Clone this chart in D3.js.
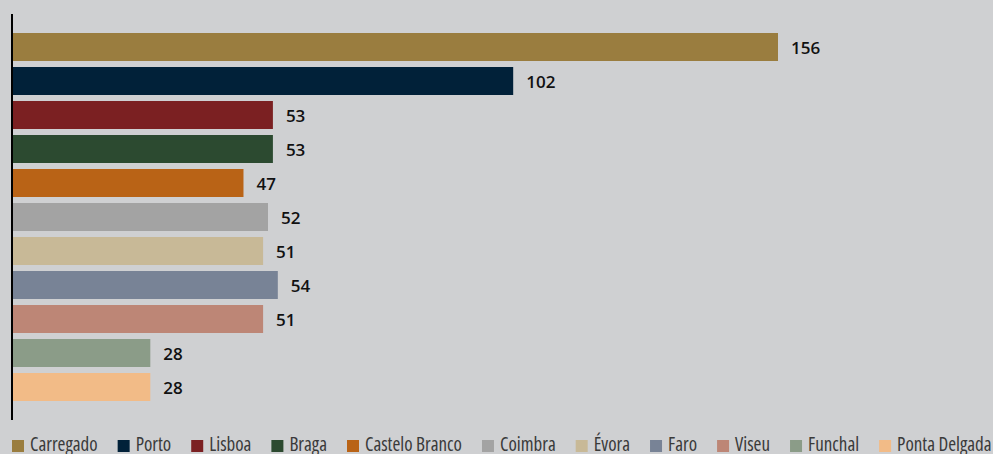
<!DOCTYPE html>
<html>
<head>
<meta charset="utf-8">
<script src="https://cdn.jsdelivr.net/npm/d3@7/dist/d3.min.js"></script>
<style>
  html, body { margin: 0; padding: 0; background: #cfd0d2; }
  svg { display: block; }
  .value { font-family: "Open Sans", "Noto Sans", sans-serif; font-weight: 600; font-size: 17px; fill: #111; }
  .legend text { font-family: "Open Sans", "Liberation Sans Narrow", sans-serif; font-stretch: condensed; font-weight: 400; font-size: 19px; fill: #3a3a3a; }
</style>
</head>
<body>
<svg id="chart" width="993" height="454"></svg>
<script>
// Cities and their counts, top to bottom
const categories = ["Carregado", "Porto", "Lisboa", "Braga", "Castelo Branco", "Coimbra", "Évora", "Faro", "Viseu", "Funchal", "Ponta Delgada"];
const values = [156, 102, 53, 53, 47, 52, 51, 54, 51, 28, 28];
const colors = ["#9a7d3f", "#012139", "#7b2022", "#2c4a30", "#b96316", "#a3a3a3", "#c8b997", "#788396", "#bd8676", "#8b9c88", "#f2bb87"];

const W = 993, H = 454;
const svg = d3.select("#chart");

svg.append("rect").attr("width", W).attr("height", H).attr("fill", "#cfd0d2");

const x = d3.scaleLinear().domain([0, 156]).range([13, 778]);
const y = d3.scaleBand().domain(categories).range([30, 404]).paddingInner(6 / 34).paddingOuter(3 / 34);
const color = d3.scaleOrdinal().domain(categories).range(colors);

const data = categories.map((c, i) => ({ city: c, value: values[i] }));

// Bars
svg.append("g").selectAll("rect")
  .data(data)
  .join("rect")
  .attr("x", x(0))
  .attr("y", d => y(d.city))
  .attr("width", d => x(d.value) - x(0))
  .attr("height", y.bandwidth())
  .attr("fill", d => color(d.city));

// Value labels just past each bar end
svg.append("g").selectAll("text")
  .data(data)
  .join("text")
  .attr("class", "value")
  .attr("x", d => x(d.value) + 13)
  .attr("y", d => y(d.city) + y.bandwidth() / 2)
  .attr("text-anchor", "start")
  .attr("dominant-baseline", "central")
  .text(d => d.value);

// Category axis line
svg.append("line")
  .attr("x1", 12).attr("x2", 12)
  .attr("y1", 14).attr("y2", 420)
  .attr("stroke", "#000").attr("stroke-width", 2);

// Legend laid out left to right
const legend = svg.append("g").attr("class", "legend");
let lx = 12;
categories.forEach(c => {
  const g = legend.append("g").attr("transform", `translate(${lx},0)`);
  g.append("rect").attr("x", 0).attr("y", 440).attr("width", 12).attr("height", 12).attr("fill", color(c));
  const t = g.append("text").attr("x", 18).attr("y", 451).text(c);
  lx += 18 + t.node().getComputedTextLength() + 20;
});
</script>
</body>
</html>
